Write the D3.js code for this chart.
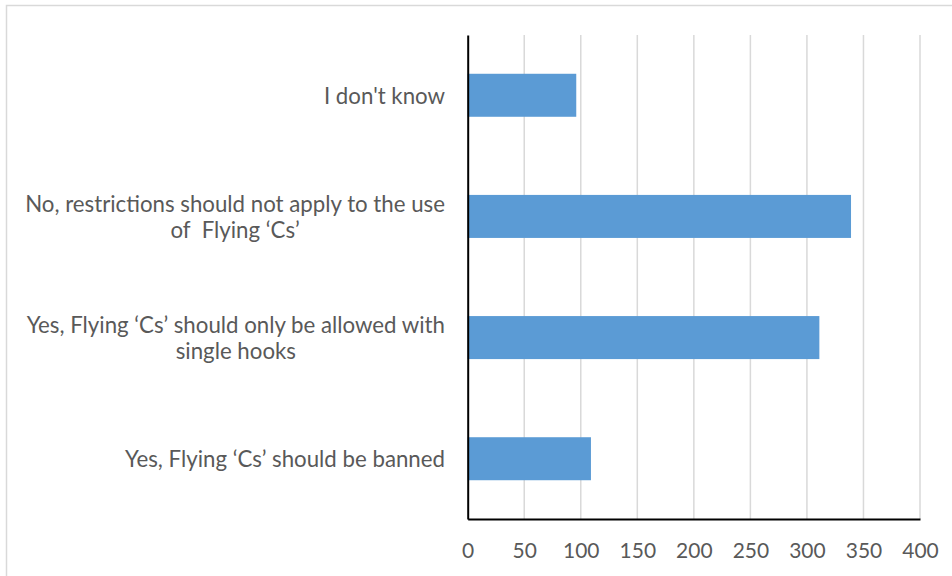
<!DOCTYPE html>
<html>
<head>
<meta charset="utf-8">
<script src="https://cdn.jsdelivr.net/npm/d3@7"></script>
<style>
  html, body { margin: 0; padding: 0; background: #fff; }
  svg { display: block; }
  text { font-family: Lato, "Open Sans", sans-serif; fill: #595959; white-space: pre; }
</style>
</head>
<body>
<svg id="chart" width="952" height="576"></svg>
<script>
// ---- data ----
const categories = [
  "I don't know",
  "No, restrictions should not apply to the use of  Flying \u2018Cs\u2019",
  "Yes, Flying \u2018Cs\u2019 should only be allowed with single hooks",
  "Yes, Flying \u2018Cs\u2019 should be banned"
];
const categoryLines = [
  ["I don't know"],
  ["No, restrictions should not apply to the use", "of  Flying \u2018Cs\u2019"],
  ["Yes, Flying \u2018Cs\u2019 should only be allowed with", "single hooks"],
  ["Yes, Flying \u2018Cs\u2019 should be banned"]
];
const values = [96, 339, 311, 109];
const xTicks = [0, 50, 100, 150, 200, 250, 300, 350, 400];

// ---- layout ----
const svg = d3.select("#chart");
const W = 952, H = 576;
const plot = { left: 467.7, right: 920, top: 35, bottom: 519 };

// chart border
svg.append("rect")
  .attr("x", 6.5).attr("y", 5.5)
  .attr("width", W).attr("height", H)
  .attr("fill", "none").attr("stroke", "#d9d9d9").attr("stroke-width", 1.5);

const x = d3.scaleLinear().domain([0, 400]).range([plot.left, plot.right]);
const y = d3.scaleBand().domain(categories).range([plot.top, plot.bottom])
  .paddingInner(0.645).paddingOuter(0.32);

// gridlines
svg.append("g").selectAll("line").data(xTicks.filter(d => d > 0)).join("line")
  .attr("x1", d => x(d)).attr("x2", d => x(d))
  .attr("y1", plot.top).attr("y2", plot.bottom)
  .attr("stroke", "#d9d9d9").attr("stroke-width", 1.5);

// bars
svg.append("g").selectAll("rect").data(categories).join("rect")
  .attr("x", x(0))
  .attr("y", d => y(d))
  .attr("width", (d, i) => x(values[i]) - x(0))
  .attr("height", y.bandwidth())
  .attr("fill", "#5b9bd5");

// x axis
const xAxis = svg.append("g")
  .attr("transform", `translate(0,${plot.bottom})`)
  .call(d3.axisBottom(x).tickValues(xTicks).tickSize(0).tickPadding(0));
xAxis.select(".domain").attr("stroke", "#000").attr("stroke-width", 2);
xAxis.selectAll("text")
  .attr("y", 32).attr("dy", "0.35em")
  .style("font-family", "Lato, 'Open Sans', sans-serif")
  .attr("fill", "#595959");

// y axis line
const yAxis = svg.append("g")
  .attr("transform", `translate(${plot.left},0)`)
  .call(d3.axisLeft(y).tickSize(0).tickFormat(""));
yAxis.select(".domain").attr("stroke", "#000").attr("stroke-width", 2);

// fit tick font size
(function fitTicks() {
  const t = xAxis.selectAll("text").filter(d => d === 400);
  let fs = 20;
  xAxis.selectAll("text").attr("font-size", fs);
  const w = t.node().getComputedTextLength();
  fs = fs * 36.5 / w;
  xAxis.selectAll("text").attr("font-size", fs);
})();

// category labels
const labelRight = 445;
const lineH = 26;
const lg = svg.append("g");
const probe = lg.append("text").attr("font-size", 20).text(categoryLines[1][0]);
const labelFs = 20 * 420 / probe.node().getComputedTextLength();
probe.remove();

categories.forEach((c, i) => {
  const lines = categoryLines[i];
  const cy = y(c) + y.bandwidth() / 2;
  const texts = lines.map((ln, j) => lg.append("text")
    .attr("font-size", labelFs)
    .attr("dominant-baseline", "central")
    .attr("y", cy + (j - (lines.length - 1) / 2) * lineH)
    .text(ln));
  const widths = texts.map(t => t.node().getComputedTextLength());
  const maxW = d3.max(widths);
  const center = labelRight - maxW / 2;
  texts.forEach(t => t.attr("text-anchor", "middle").attr("x", center));
});
</script>
</body>
</html>
